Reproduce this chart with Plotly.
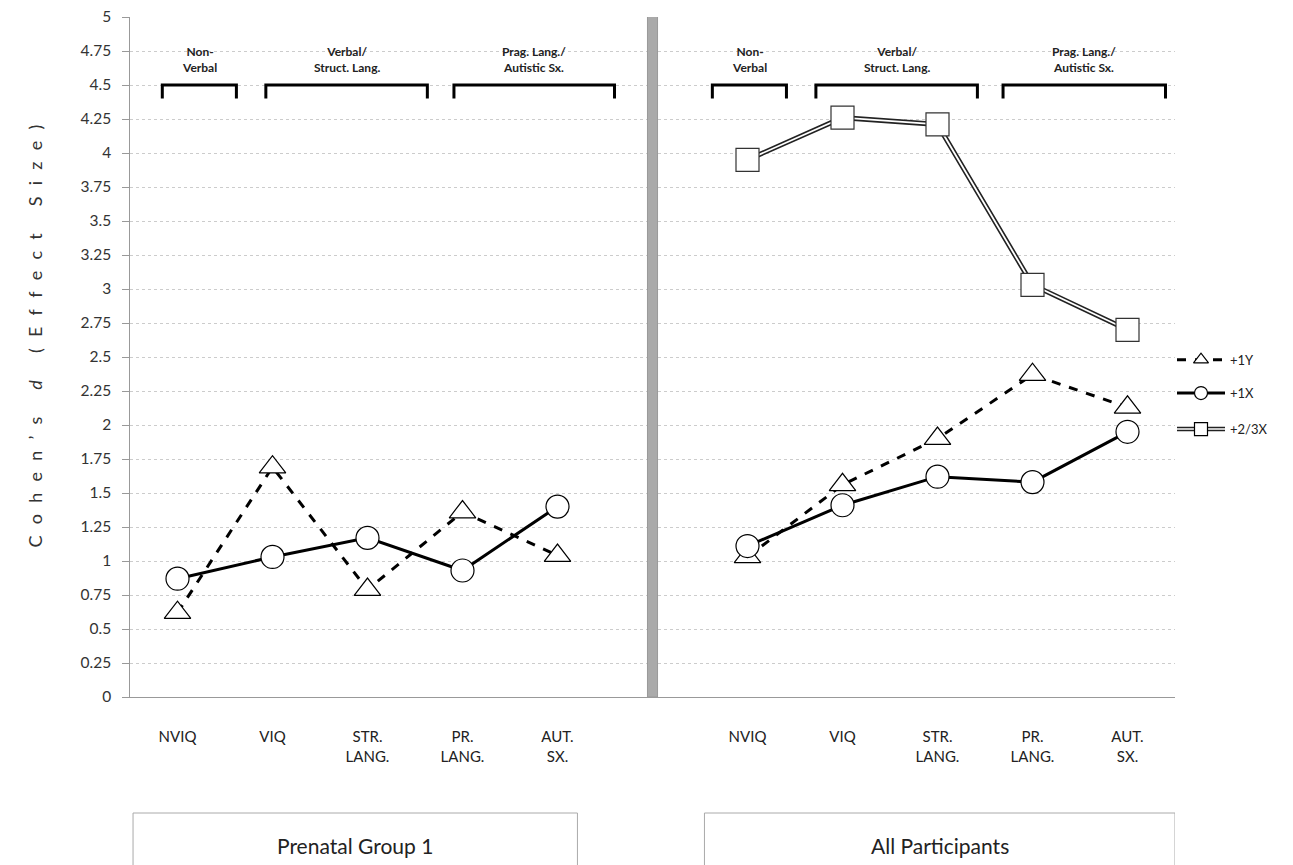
import plotly.graph_objects as go

# ---------------- data ----------------
categories = ["NVIQ", "VIQ", "STR.<br>LANG.", "PR.<br>LANG.", "AUT.<br>SX."]
panels = ["Prenatal Group 1", "All Participants"]

# Prenatal Group 1
pg_1y = [0.62, 1.69, 0.79, 1.36, 1.04]
pg_1x = [0.87, 1.03, 1.17, 0.93, 1.40]
# All Participants
ap_1y = [1.03, 1.56, 1.90, 2.37, 2.13]
ap_1x = [1.11, 1.41, 1.62, 1.58, 1.95]
ap_23x = [3.95, 4.26, 4.21, 3.03, 2.70]

series_names = ["+1Y", "+1X", "+2/3X"]
group_labels = ["Non-<br>Verbal", "Verbal/<br>Struct. Lang.", "Prag. Lang./<br>Autistic Sx."]

y_ticks = [i * 0.25 for i in range(21)]

# positions on a numeric category axis (slot 5 is the separator)
left_x = [0, 1, 2, 3, 4]
right_x = [6, 7, 8, 9, 10]

FONT = "Lato"
fig = go.Figure()

# +1Y dashed triangles
for xs, ys in [(left_x, pg_1y), (right_x, ap_1y)]:
    fig.add_trace(go.Scatter(x=xs, y=ys, mode="lines+markers", showlegend=False,
                             line=dict(color="black", width=3, dash="dash"),
                             marker=dict(symbol="triangle-up", size=23, color="white",
                                         line=dict(color="black", width=1.2))))
# +1X solid circles
for xs, ys in [(left_x, pg_1x), (right_x, ap_1x)]:
    fig.add_trace(go.Scatter(x=xs, y=ys, mode="lines+markers", showlegend=False,
                             line=dict(color="black", width=3),
                             marker=dict(symbol="circle", size=23, color="white",
                                         line=dict(color="black", width=1.2))))
# +2/3X double line squares
fig.add_trace(go.Scatter(x=right_x, y=ap_23x, mode="lines", showlegend=False,
                         line=dict(color="#222", width=5)))
fig.add_trace(go.Scatter(x=right_x, y=ap_23x, mode="lines+markers", showlegend=False,
                         line=dict(color="white", width=1.8),
                         marker=dict(symbol="square", size=23, color="white",
                                     line=dict(color="#333", width=1.2))))

# ---------------- manual legend on a side axis ----------------
leg_y = [2.48, 2.235, 1.97]
leg_styles = [
    dict(line=dict(color="black", width=3, dash="dash"), sym="triangle-up"),
    dict(line=dict(color="black", width=3), sym="circle"),
    dict(line=dict(color="#222", width=4.5), sym="square"),
]
for name, yy, st in zip(series_names, leg_y, leg_styles):
    fig.add_trace(go.Scatter(x=[2, 26, 50], y=[yy, yy, yy], mode="lines", xaxis="x2", yaxis="y2",
                             showlegend=False, line=st["line"], hoverinfo="skip"))
    if st["sym"] == "square":
        fig.add_trace(go.Scatter(x=[2, 50], y=[yy, yy], mode="lines", xaxis="x2", yaxis="y2",
                                 showlegend=False, line=dict(color="white", width=1.5),
                                 hoverinfo="skip"))
    fig.add_trace(go.Scatter(x=[26], y=[yy], mode="markers", xaxis="x2", yaxis="y2",
                             showlegend=False, hoverinfo="skip",
                             marker=dict(symbol=st["sym"], size=13, color="white",
                                         line=dict(color="black", width=1.2))))
    fig.add_annotation(x=53, y=yy, xref="x2", yref="y2", text=name, showarrow=False,
                       xanchor="left", yanchor="middle",
                       font=dict(family=FONT, size=13, color="#222"))

shapes = []
# separator bar
shapes.append(dict(type="rect", xref="x", yref="y", x0=4.947, x1=5.053, y0=0, y1=5.03,
                   fillcolor="#aaaaaa", line=dict(color="#999999", width=1), layer="above"))

# brackets and group labels
bracket_spans = [(-0.16, 0.62), (0.93, 2.63), (2.91, 4.6),
                 (5.63, 6.41), (6.72, 8.42), (8.69, 10.4)]
for i, (a, b) in enumerate(bracket_spans):
    shapes.append(dict(type="path", xref="x", yref="y",
                       path=f"M {a},4.4 L {a},4.5 L {b},4.5 L {b},4.4",
                       line=dict(color="black", width=3)))
    fig.add_annotation(x=(a + b) / 2, y=4.5, xref="x", yref="y", text="<b>" + group_labels[i % 3] + "</b>",
                       showarrow=False, yanchor="bottom", yshift=8,
                       font=dict(family=FONT, size=12, color="#222"))

# bottom panel boxes
box_spans = [(-0.468, 4.21), (5.547, 10.5)]
for (a, b), lab in zip(box_spans, panels):
    shapes.append(dict(type="rect", xref="x", yref="paper", x0=a, x1=b, y0=-0.26, y1=-0.1706,
                       line=dict(color="#aaaaaa", width=1), fillcolor="white"))
    fig.add_annotation(x=(a + b) / 2, y=-0.218, xref="x", yref="paper", text=lab,
                       showarrow=False, yanchor="middle",
                       font=dict(family=FONT, size=21, color="#222"))

# y axis title (letter-spaced)
sep = "\u2002\u2009"
gap = "\u2002\u2002\u2002"
def spaced(word):
    return sep.join(list(word))
title_txt = gap.join([spaced("Cohen’s"), "<i>d</i>", spaced("(Effect"), spaced("Size)")])
fig.add_annotation(x=0, y=0.53, xref="paper", yref="paper", xshift=-108, textangle=-90,
                   text=title_txt, showarrow=False, font=dict(family=FONT, size=18, color="#333"))

main_dom = 1045 / 1158
fig.update_layout(
    width=1293, height=865,
    margin=dict(l=130, r=5, t=17, b=168),
    paper_bgcolor="white", plot_bgcolor="white",
    shapes=shapes,
    showlegend=False,
    xaxis=dict(domain=[0, main_dom], range=[-0.5, 10.5], tickvals=left_x + right_x,
               ticktext=categories + categories, showgrid=False, zeroline=False,
               showline=True, linecolor="#999", linewidth=1, ticks="",
               ticklabelstandoff=26,
               tickfont=dict(family=FONT, size=15, color="#222")),
    yaxis=dict(range=[0, 5], tickvals=y_ticks, ticktext=[f"{v:g}\u2002" for v in y_ticks],
               showgrid=True, gridcolor="#cccccc", griddash="dot", gridwidth=1,
               zeroline=False, showline=True, linecolor="#999", linewidth=1,
               ticks="outside", ticklen=7, tickcolor="#999", automargin=False,
               tickfont=dict(family=FONT, size=15.5, color="#333")),
    xaxis2=dict(domain=[main_dom, 1], range=[0, 113], visible=False, anchor="y2"),
    yaxis2=dict(range=[0, 5], visible=False, anchor="x2", domain=[0, 1]),
)

fig.write_html("out.html", config={"displayModeBar": False},
               post_script="document.body.style.margin='0';")
